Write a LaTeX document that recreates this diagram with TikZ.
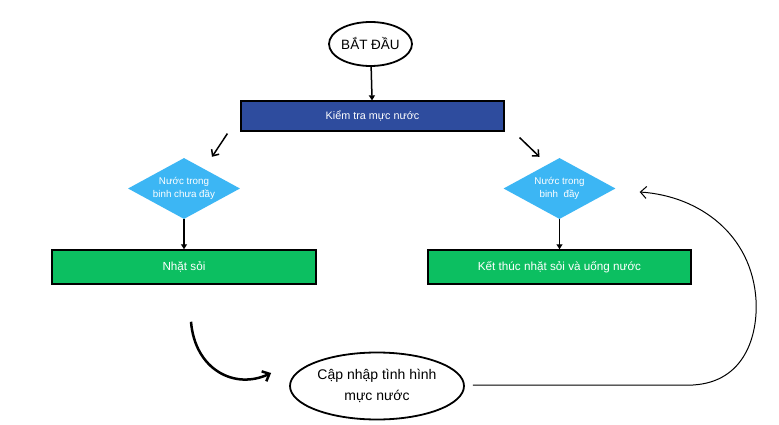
\documentclass[tikz,border=0pt]{standalone}
\usepackage{fontspec}
\setmainfont{Liberation Sans}
\usetikzlibrary{shapes.geometric,arrows.meta}
\definecolor{boxblue}{HTML}{2E4C9E}
\definecolor{dia}{HTML}{3CB6F4}
\definecolor{gr}{HTML}{0CBF61}
\begin{document}
\begin{tikzpicture}[x=1pt,y=-1pt,
 oval/.style={ellipse,draw=black,line width=1.8pt,fill=white,inner sep=0,align=center},
 bluebox/.style={rectangle,draw=black,line width=1.2pt,fill=boxblue,text=white,font=\fontsize{10.8}{12}\selectfont,minimum width=263pt,minimum height=30pt,inner sep=0},
 dec/.style={diamond,fill=dia,text=white,font=\fontsize{9.8}{13}\selectfont,minimum width=112pt,minimum height=61pt,inner sep=0,align=center,aspect=1.84},
 greenbox/.style={rectangle,draw=black,line width=1.5pt,fill=gr,text=white,font=\fontsize{11.7}{13}\selectfont,minimum width=264pt,minimum height=34pt,inner sep=0},
 down/.style={-{Triangle[length=5pt,width=6pt]},line width=1.5pt},
 barb/.style={-{Straight Barb[length=5pt,width=9pt]},line width=1.5pt}
]
\useasboundingbox[fill=white] (0,0) rectangle (779,425);

\node[oval,minimum width=83pt,minimum height=44pt,font=\fontsize{13.5}{15}\selectfont] (start) at (370.5,44) {BẮT ĐẦU};
\node[bluebox] (check) at (372.5,116) {Kiểm tra mực nước};
\node[dec] (d1) at (184,188.5) {Nước trong\\binh chưa đầy};
\node[dec] (d2) at (559.5,188.5) {Nước trong\\binh~ đầy};
\node[greenbox] (pick) at (184,267) {Nhặt sỏi};
\node[greenbox,minimum width=263pt] (finish) at (559.5,267) {Kết thúc nhặt sỏi và uống nước};
\node[oval,minimum width=174pt,minimum height=67pt,font=\fontsize{14}{21}\selectfont] (upd) at (377,386) {Cập nhập tình hình\\mực nước};

\coordinate (c1s) at ([shift={(-13,2)}]check.south west);
\coordinate (c1e) at ([shift={(28,-1)}]d1.north);
\coordinate (c2s) at ([shift={(15,6)}]check.south east);
\coordinate (c2e) at ([shift={(-20,-1)}]d2.north);
\coordinate (ts) at ([shift={(7,37)}]pick.south);
\coordinate (te) at ([shift={(-18,-13)}]upd.west);
\coordinate (rs) at ([shift={(8,-1)}]upd.east);
\coordinate (re) at ([shift={(24,3.5)}]d2.east);

\draw[down] (start) -- (check);
\draw[barb] (c1s) -- (c1e);
\draw[barb] (c2s) -- (c2e);
\draw[down] (d1) -- (pick);
\draw[down] (d2) -- (finish);
\draw[-{Straight Barb[length=6pt,width=11pt]},line width=2.5pt] (ts) .. controls (195,370) and (235,390) .. (te);
\draw[-{Straight Barb[length=6pt,width=12pt]},line width=1pt] (rs) -- (693,385) .. controls (745,382) and (758,335) .. (756,300) .. controls (752,235) and (700,196) .. (re);
\end{tikzpicture}
\end{document}
